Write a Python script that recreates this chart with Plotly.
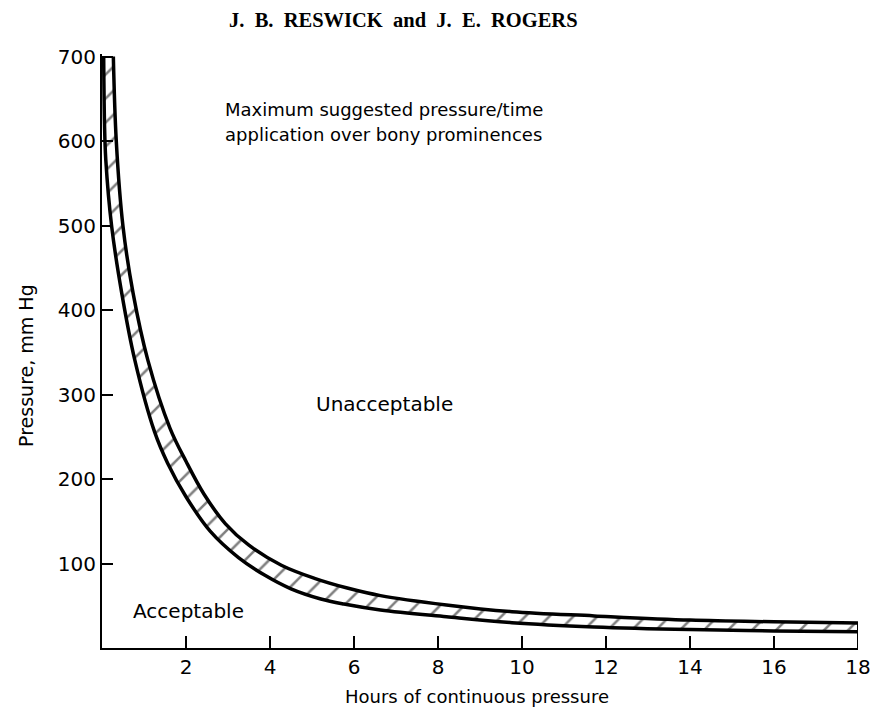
import plotly.graph_objects as go

# Upper (maximum) pressure/time boundary, hours vs mm Hg
hours_upper = [0.27, 0.34, 0.50, 0.74, 1.09, 1.62, 2.0, 2.43, 2.94, 3.49,
               4.27, 5.06, 5.84, 6.63, 8.2, 9.76, 11.72, 14, 16, 18]
press_upper = [700, 600, 499, 420, 341, 260, 221, 182, 147, 122,
               98, 82.5, 71, 62, 51, 43, 38, 33, 31, 29.6]

# Lower boundary of the band
hours_lower = [0.04, 0.06, 0.09, 0.23, 0.47, 0.78, 1.25, 1.56, 2.0, 2.58, 3.25,
               3.88, 4.5, 5.21, 5.76, 6.63, 8.2, 9.76, 11.72, 14, 16, 18]
press_lower = [700, 620, 578, 499, 420, 341, 256, 219, 179, 138, 107,
               86, 70, 58, 52, 45, 37, 30, 25, 21.8, 20.2, 19.3]

x_ticks = [2, 4, 6, 8, 10, 12, 14, 16, 18]
y_ticks = [100, 200, 300, 400, 500, 600, 700]

FONT = "DejaVu Sans"

fig = go.Figure()

# lower curve (reference for the hatched fill)
fig.add_trace(go.Scatter(
    x=hours_lower, y=press_lower, mode="lines",
    line=dict(color="black", width=3.5, shape="spline", smoothing=1.0),
    hoverinfo="skip", showlegend=False,
))
# upper curve, hatched band down to the lower curve
fig.add_trace(go.Scatter(
    x=hours_upper, y=press_upper, mode="lines",
    line=dict(color="black", width=3.5, shape="spline", smoothing=1.0),
    fill="tonexty", fillcolor="white",
    fillpattern=dict(shape="/", fgcolor="black", bgcolor="white",
                     size=17, solidity=0.15),
    hoverinfo="skip", showlegend=False,
))

# closing edge of the band at the end of the time axis
fig.add_shape(type="line", xref="x", yref="y",
              x0=hours_upper[-1], x1=hours_upper[-1],
              y0=0, y1=press_upper[-1],
              line=dict(color="black", width=2))

annotations = [
    dict(text="J.  B.  RESWICK  and  J.  E.  ROGERS", xref="paper", yref="paper",
         x=(407 - 102) / 765, y=1.057, xanchor="center", yanchor="middle",
         showarrow=False,
         font=dict(family="Liberation Serif", size=20.5, color="black", weight="bold")),
    dict(text="Maximum suggested pressure/time", xref="x", yref="y",
         x=2.89, y=637, xanchor="left", yanchor="middle", showarrow=False,
         font=dict(family=FONT, size=18, color="black")),
    dict(text="application over bony prominences", xref="x", yref="y",
         x=2.89, y=607.5, xanchor="left", yanchor="middle", showarrow=False,
         font=dict(family=FONT, size=18, color="black")),
    dict(text="Unacceptable", xref="x", yref="y",
         x=6.73, y=289, xanchor="center", yanchor="middle", showarrow=False,
         font=dict(family=FONT, size=20, color="black")),
    dict(text="Acceptable", xref="x", yref="y",
         x=2.07, y=44, xanchor="center", yanchor="middle", showarrow=False,
         font=dict(family=FONT, size=20, color="black")),
    dict(text="Hours of continuous pressure", xref="paper", yref="paper",
         x=(481 - 102) / 765, y=(648 - 697) / 594, xanchor="center", yanchor="middle",
         showarrow=False, font=dict(family=FONT, size=18, color="black")),
    dict(text="Pressure, mm Hg", xref="paper", yref="paper",
         x=(25 - 102) / 765, y=(648 - 365) / 594, xanchor="center", yanchor="middle",
         textangle=-90, showarrow=False,
         font=dict(family=FONT, size=19, color="black")),
]

fig.update_layout(
    width=883, height=713,
    margin=dict(l=102, r=16, t=54, b=65),
    paper_bgcolor="white", plot_bgcolor="white",
    annotations=annotations,
    showlegend=False,
)

fig.update_xaxes(
    range=[0, 18], tickvals=x_ticks, ticktext=[str(v) for v in x_ticks],
    ticks="inside", ticklen=12, tickwidth=1.5, tickcolor="black",
    showline=True, linecolor="black", linewidth=2,
    showgrid=False, zeroline=False,
    tickfont=dict(family=FONT, size=20, color="black"),
)
fig.update_yaxes(
    range=[0, 703], tickvals=y_ticks, ticktext=[str(v) for v in y_ticks],
    ticks="inside", ticklen=11, tickwidth=1.5, tickcolor="black",
    showline=True, linecolor="black", linewidth=2,
    showgrid=False, zeroline=False,
    tickfont=dict(family=FONT, size=20, color="black"),
)

fig.write_html("out.html")
